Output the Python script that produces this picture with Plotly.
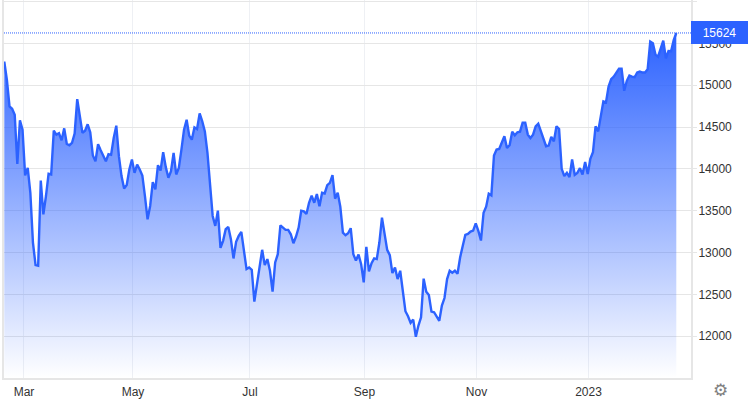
import plotly.graph_objects as go

prices = [
15282,15064,14746,14718,14647,14060,14579,14468,13921,14012,13714,13119,12849,12841,13861,13456,13675,13941,13933,
14456,14409,14425,14341,14484,14298,14282,14310,14421,14833,14627,14429,14456,14532,14437,14159,14091,14294,14222,
14151,14091,14175,14167,14369,14516,14151,13913,13766,13806,13992,14111,13952,14052,13992,13921,13675,13397,13556,
13841,13754,14044,13980,14198,14020,13893,13972,14191,13933,14012,14230,14468,14587,14397,14349,14496,14476,14663,
14568,14448,14191,13754,13437,13318,13500,13056,13139,13278,13306,13159,12929,13127,13198,13246,13000,12802,12822,
12794,12413,12623,12881,13032,12849,12921,12782,12532,12881,12980,13325,13298,13270,13270,13218,13111,13191,13298,
13500,13492,13460,13595,13679,13595,13698,13552,13714,13706,13806,13833,13925,13643,13714,13548,13238,13206,13230,
13290,12980,12905,12976,12861,12643,13068,12774,12873,12929,12921,13119,13417,13198,13032,12968,12754,12821,12683,
12782,12524,12298,12238,12159,12198,11992,12127,12226,12687,12532,12492,12294,12286,12238,12183,12365,12456,12683,
12782,12758,12782,12746,12941,13079,13210,13222,13250,13262,13349,13258,13143,13476,13548,13702,13683,14159,14230,
14238,14317,14389,14250,14282,14444,14401,14437,14444,14552,14552,14409,14369,14409,14508,14540,14448,14349,14270,
14278,14381,14329,14508,14476,14000,13913,13952,13901,14111,13929,13952,14008,13933,14083,13937,14119,
14198,14508,14448,14627,14806,14794,14984,15071,15103,15151,15198,15198,14933,15052,15115,15103,15095,15151,15163,
15151,15151,15190,15520,15500,15365,15341,15429,15532,15321,15409,15405,15540,15624,
]
month_labels = ["Mar", "May", "Jul", "Sep", "Nov", "2023"]
month_positions = [7.56, 49.4, 94.3, 138.3, 181.3, 224.3]
price_ticks = [12000, 12500, 13000, 13500, 14000, 14500, 15000, 15500, 16000]
last_price = 15624

LINE = "#2c62ff"
GRID = "#e6e6e6"
days = list(range(len(prices)))
step = (676.3 - 4.3) / (len(prices) - 1)
x_range = [-(4.3 - 4) / step, (691 - 4.3) / step]

fig = go.Figure()
fig.add_trace(go.Scatter(
    x=days, y=prices, mode="lines", hoverinfo="skip",
    line=dict(color=LINE, width=2.4, shape="linear"),
    fill="tozeroy",
    fillgradient=dict(
        type="vertical", start=11500, stop=15624,
        colorscale=[[0, "rgba(44,98,255,0)"], [1, "rgba(44,98,255,1)"]],
    ),
))
fig.add_shape(type="line", xref="paper", x0=0, x1=1, yref="y", y0=last_price, y1=last_price,
              line=dict(color=LINE, width=1, dash="1px,1px"), layer="above")
fig.add_annotation(xref="paper", yref="y", x=1, y=last_price, xanchor="left", yanchor="middle",
                   text=str(last_price), showarrow=False, bgcolor=LINE, width=53, height=19,
                   borderpad=2, borderwidth=0, align="center", xshift=0,
                   font=dict(color="white", size=12, family="Liberation Sans, Arial"))
fig.add_annotation(xref="paper", yref="paper", x=1, y=0, xanchor="left", yanchor="top",
                   text="⚙", showarrow=False, xshift=20, yshift=0,
                   font=dict(color="#808080", size=17, family="DejaVu Sans"))

fig.update_layout(
    width=748, height=400, autosize=False,
    margin=dict(l=4, r=57, t=0, b=22, pad=0),
    paper_bgcolor="white", plot_bgcolor="white",
    showlegend=False,
    font=dict(family="Liberation Sans, Arial", size=12, color="#333333"),
    xaxis=dict(
        range=x_range, tickmode="array", tickvals=month_positions, ticktext=month_labels,
        showgrid=True, gridcolor="#eef0f4", gridwidth=1.4, zeroline=False,
        showline=True, linecolor=GRID, linewidth=1.5, ticks="", ticklabelstandoff=2,
        tickfont=dict(size=12, color="#333333"),
    ),
    yaxis=dict(
        side="right", range=[11500, 16018], tickmode="array", tickvals=price_ticks,
        ticktext=[str(t) for t in price_ticks],
        showgrid=True, gridcolor=GRID, gridwidth=1.3, zeroline=False,
        showline=True, mirror=True, linecolor=GRID, linewidth=2,
        ticks="outside", ticklen=4, tickcolor=GRID, tickwidth=1,
        ticklabelstandoff=-1, tickfont=dict(size=12, color="#333333"),
    ),
)
fig.write_html("out.html", config={"displayModeBar": False},
               post_script="document.body.style.margin='0';document.body.style.overflow='hidden';")
